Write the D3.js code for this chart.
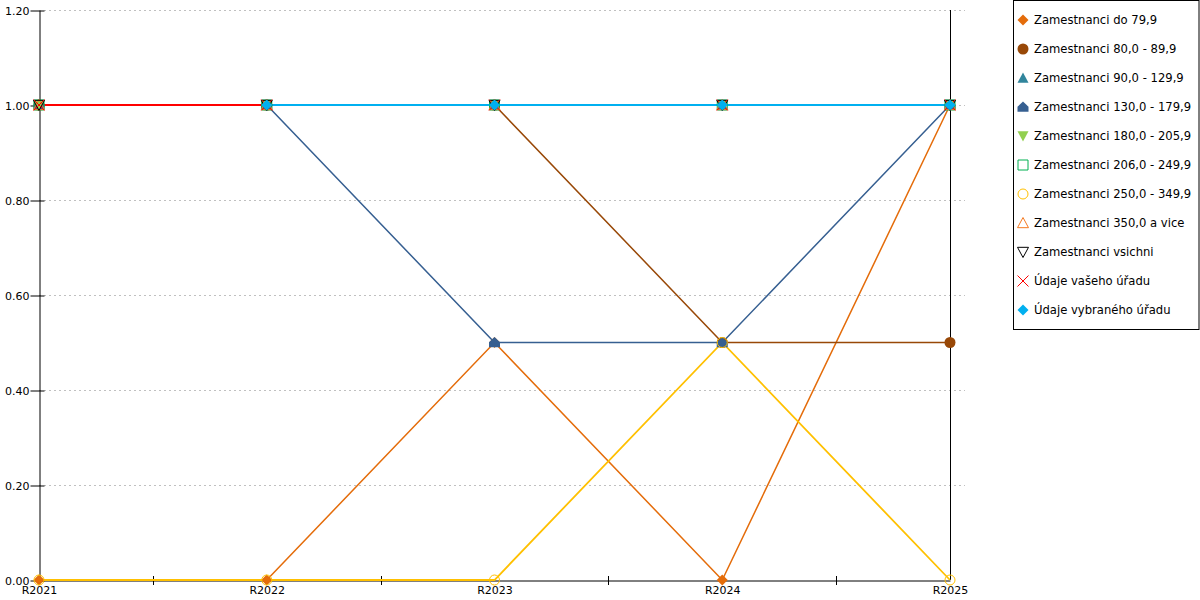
<!DOCTYPE html>
<html><head><meta charset="utf-8">
<script src="https://cdn.jsdelivr.net/npm/d3@7"></script>
<style>
html,body{margin:0;padding:0;background:#fff;}
svg text{font-family:"DejaVu Sans",Verdana,sans-serif;fill:#000;}
</style></head>
<body><svg id="c" width="1200" height="600"></svg>
<script>
const categories = ["R2021","R2022","R2023","R2024","R2025"];
const yTicks = [0,0.2,0.4,0.6,0.8,1.0,1.2];
const seriesNames = ["Zamestnanci do 79,9","Zamestnanci 80,0 - 89,9","Zamestnanci 90,0 - 129,9","Zamestnanci 130,0 - 179,9","Zamestnanci 180,0 - 205,9","Zamestnanci 206,0 - 249,9","Zamestnanci 250,0 - 349,9","Zamestnanci 350,0 a vice","Zamestnanci vsichni","Údaje vašeho úřadu","Údaje vybraného úřadu"];
const seriesColors = ["#E46C0A","#984807","#31859C","#365F91","#92D050","#00B050","#FFC000","#F47920","#000000","#FF0000","#00B0F0"];
const seriesMarkers = ["diamond","circle","triangle","house","triangleDown","squareOpen","circleOpen","triangleOpen","triangleDownOpen","x","diamond"];
const seriesWidths = [1.5,1.5,1.5,1.5,1.5,1.5,1.8,1.5,1.5,2,2];
const s_do79 = [0,0,0.5,0,1];
const s_80_89 = [1,1,1,0.5,0.5];
const s_90_129 = [1,1,1,1,1];
const s_130_179 = [1,1,0.5,0.5,1];
const s_180_205 = [1,1,1,1,1];
const s_206_249 = [1,1,1,1,1];
const s_250_349 = [0,0,0,0.5,0];
const s_350 = [1,1,1,1,1];
const s_vsichni = [1,1,1,1,1];
const s_vaseho = [1,1,1,1,1];
const s_vybraneho = [null,1,1,1,1];
const seriesValues = [s_do79,s_80_89,s_90_129,s_130_179,s_180_205,s_206_249,s_250_349,s_350,s_vsichni,s_vaseho,s_vybraneho];

const svg = d3.select("#c");
const L=39, R=950, T=10, B=580;
const x = d3.scalePoint().domain(categories).range([L,R]);
const y = d3.scaleLinear().domain([0,1.2]).range([B,T]);

// gridlines
svg.append("g").selectAll("line").data(yTicks.filter(d=>d>0)).join("line")
  .attr("x1",L).attr("x2",965).attr("y1",d=>Math.round(y(d))+0.5).attr("y2",d=>Math.round(y(d))+0.5)
  .attr("stroke","#c0c0c0").attr("stroke-dasharray","2,3");

// y axis
const yAxis = svg.append("g").attr("transform",`translate(${L+0.5},0.5)`)
  .call(d3.axisLeft(y).tickValues(yTicks).tickFormat(d3.format(".2f")).tickSizeInner(9).tickSizeOuter(0));
yAxis.select(".domain").attr("stroke","#000");
yAxis.selectAll(".tick line").attr("x2",5).attr("x1",-9);
yAxis.selectAll(".tick text").attr("x",-10).attr("font-size","11px").attr("font-family","DejaVu Sans");

// x axis
const xAxis = svg.append("g").attr("transform",`translate(0,${B+0.5})`)
  .call(d3.axisBottom(x).tickSize(0).tickPadding(6));
xAxis.select(".domain").attr("stroke","#000");
xAxis.selectAll(".tick text").attr("font-size","11px").attr("font-family","DejaVu Sans");
// minor ticks between categories
const mids = categories.slice(1).map((c,i)=> (x(categories[i])+x(c))/2);
svg.append("g").selectAll("line").data(mids).join("line")
  .attr("x1",d=>Math.round(d)+0.5).attr("x2",d=>Math.round(d)+0.5).attr("y1",B-4).attr("y2",B+5).attr("stroke","#000");

// right vertical line
svg.append("line").attr("x1",R+0.5).attr("x2",R+0.5).attr("y1",T).attr("y2",B).attr("stroke","#000");

// marker path generator
function markerPath(type, r){
  switch(type){
    case "diamond": return `M0,${-r}L${r},0L0,${r}L${-r},0Z`;
    case "circle": case "circleOpen": { const p=d3.path(); p.arc(0,0,type==="circleOpen"?r-0.5:r,0,2*Math.PI); return p.toString(); }
    case "triangle": case "triangleOpen": return `M0,${-r}L${r},${r*0.85}L${-r},${r*0.85}Z`;
    case "house": return `M0,${-r}L${r},${-r*0.05}L${r},${r*0.85}L${-r},${r*0.85}L${-r},${-r*0.05}Z`;
    case "triangleDown": case "triangleDownOpen": return `M${-r},${-r*0.85}L${r},${-r*0.85}L0,${r}Z`;
    case "squareOpen": { const q=r-0.5; return `M${-q},${-q}L${q},${-q}L${q},${q}L${-q},${q}Z`; }
    case "x": return `M${-r},${-r}L${r},${r}M${r},${-r}L${-r},${r}`;
  }
}
function styleMarker(sel, type, color){
  const open = type.endsWith("Open") || type==="x";
  sel.attr("fill", open?"none":color).attr("stroke", open?color:"none").attr("stroke-width", open?1:0);
}

// lines
const line = d3.line().defined(d=>d.v!==null).x(d=>x(d.c)).y(d=>y(d.v));
seriesValues.forEach((vals,i)=>{
  const pts = vals.map((v,j)=>({c:categories[j],v}));
  svg.append("path").datum(pts).attr("d",line).attr("fill","none")
    .attr("stroke",seriesColors[i]).attr("stroke-width",seriesWidths[i]);
});
// markers
seriesValues.forEach((vals,i)=>{
  const pts = vals.map((v,j)=>({c:categories[j],v})).filter(d=>d.v!==null);
  svg.append("g").selectAll("path").data(pts).join("path")
    .attr("transform",d=>`translate(${x(d.c)},${y(d.v)})`)
    .attr("d",markerPath(seriesMarkers[i],5.5))
    .call(styleMarker, seriesMarkers[i], seriesColors[i]);
});

// legend
const lg = svg.append("g");
lg.append("rect").attr("x",1013.5).attr("y",0.5).attr("width",185.5).attr("height",329).attr("fill","#fff").attr("stroke","#000");
seriesNames.forEach((n,i)=>{
  const cy = 20 + i*29;
  lg.append("path").attr("transform",`translate(1023,${cy})`).attr("d",markerPath(seriesMarkers[i],5.5))
    .call(styleMarker, seriesMarkers[i], seriesColors[i]);
  lg.append("text").attr("x",1034).attr("y",cy).attr("dy","0.35em").attr("font-size","11.6px").text(n);
});
</script></body></html>
